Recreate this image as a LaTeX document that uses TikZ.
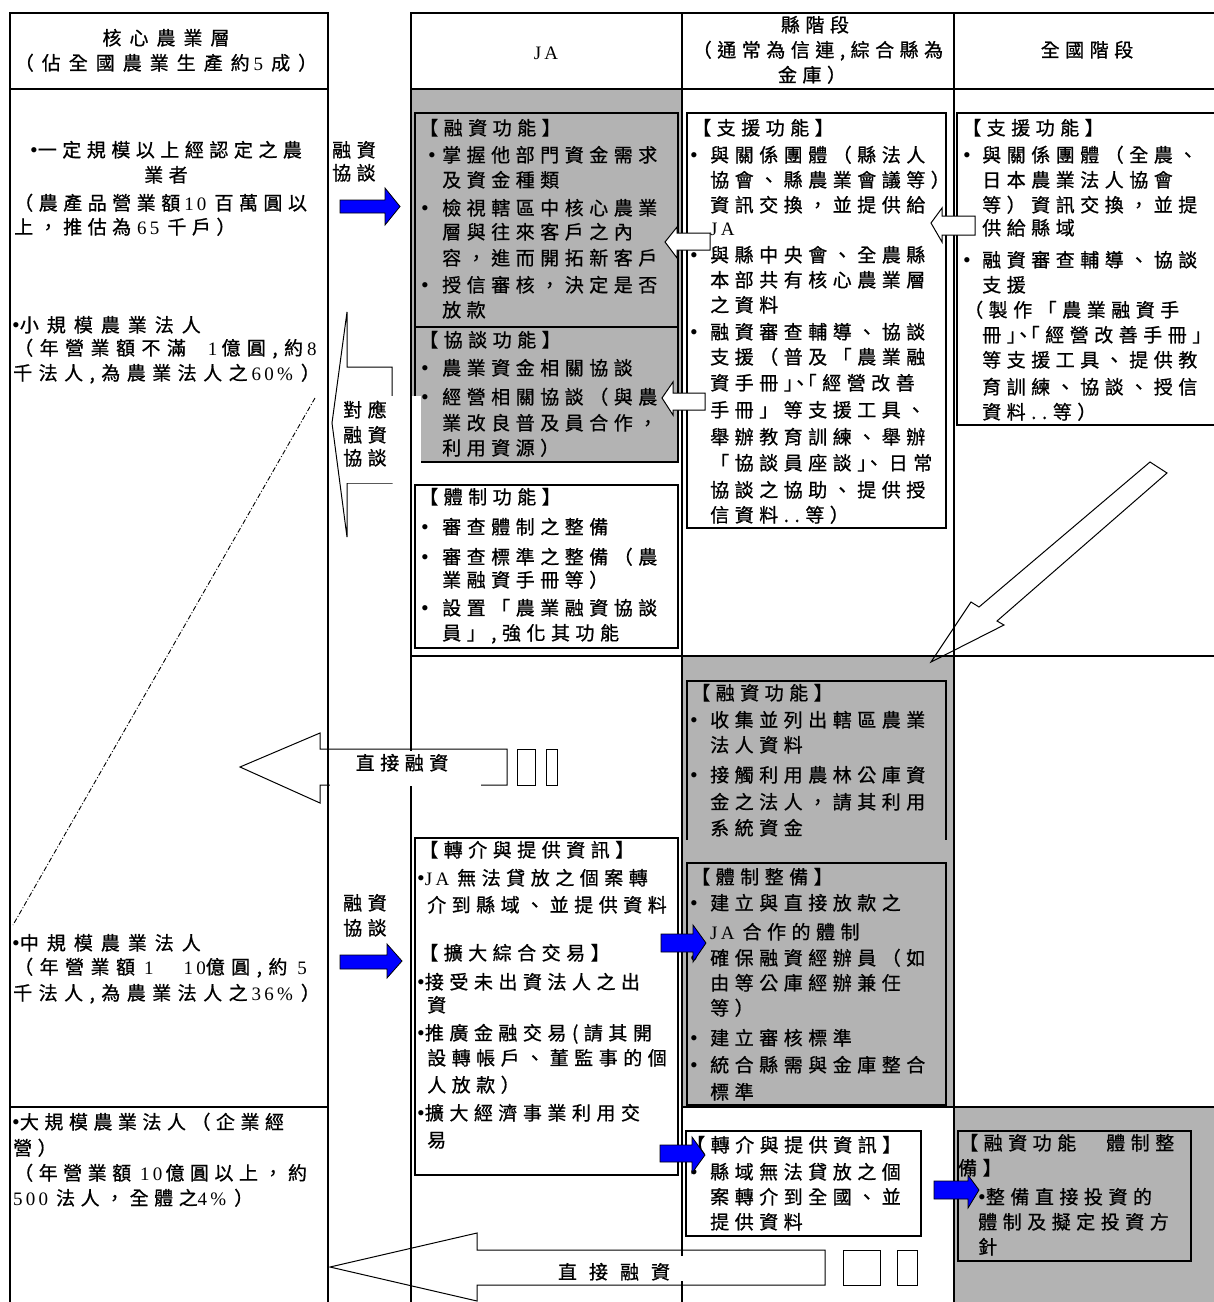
\documentclass[tikz,border=0pt]{standalone}
\usepackage{fontspec}
\setmainfont{Noto Sans CJK TC}[LetterSpace=29,FakeBold=0.8]
\newfontfamily\latf{Liberation Serif}[LetterSpace=17]
\newcommand\nm[1]{{\latf #1}}
\newcommand\bu{{\latf\fontsize{22}{25}\selectfont •}}
\newcommand\bx[1]{\makebox[#1pt][l]{\latf\fontsize{22}{25}\selectfont •}}
\newcommand\gp{\hspace{4pt}}
\definecolor{cellgray}{RGB}{179,179,179}
\definecolor{arrblue}{RGB}{0,0,255}
\newcommand\TL[4]{\node[txt] (#1) at (#2,#3+7) {#4};}
\newcommand\WL[4]{\node[wtxt] (#1) at (#2,#3+7) {#4};}
\newcommand\ML[4]{\node[mtxt] (#1) at (#2,#3+7) {#4};}
\tikzset{
  txt/.style={anchor=base west, inner sep=0pt, font=\fontsize{19}{25}\selectfont},
  wtxt/.style={anchor=base west, inner sep=0pt, font=\fontsize{19}{25}\selectfont\addfontfeature{LetterSpace=42}},
  mtxt/.style={anchor=base west, inner sep=0pt, font=\fontsize{19}{25}\selectfont\addfontfeature{LetterSpace=34}},
  ctxt/.style={txt, anchor=base},
  wctxt/.style={wtxt, anchor=base},
  tab/.style={line width=1.6pt},
  boxl/.style={draw, line width=1.1pt},
  bluearr/.style={fill=arrblue, draw=black, line width=0.8pt, line join=miter},
  hollow/.style={fill=white, draw=black, line width=1pt},
  outl/.style={draw=black, line width=1pt},
  dashdotl/.style={line width=0.9pt, dash pattern=on 5pt off 2pt on 1pt off 2pt}
}
\begin{document}
\begin{tikzpicture}[x=1pt,y=-1pt]
\useasboundingbox (0,0) rectangle (1214,1302);
\fill[white] (0,0) rectangle (1214,1302);
% gray cells
\fill[cellgray] (411,89) rectangle (682,396);
\fill[cellgray] (421,396) rectangle (678,462);
\fill[cellgray] (682,656) rectangle (954,1107);
\fill[cellgray] (954,1107) rectangle (1214,1302);
% table lines
\draw[tab] (10,1302) -- (10,13) -- (328,13) -- (328,1302);
\draw[tab] (10,89) -- (328,89);
\draw[tab] (10,1107) -- (328,1107);
\draw[tab] (411,1302) -- (411,13) -- (1214,13);
\draw[tab] (682,13) -- (682,1302);
\draw[tab, line width=2.4pt] (954,13) -- (954,1302);
\draw[tab] (411,89) -- (1214,89);
\draw[tab] (411,656) -- (1214,656);
\draw[tab] (682,1107) -- (1214,1107);
% boxes
\draw[boxl] (415,113) rectangle (678,327);
\draw[boxl] (415,396) -- (415,327) -- (678,327) -- (678,462) -- (421,462);
\draw[boxl, fill=white] (415,485) rectangle (678,648);
\draw[boxl, fill=white] (687,113) rectangle (946,528);
\draw[boxl, fill=white] (1214,113) -- (957,113) -- (957,425) -- (1214,425);
\draw[boxl] (687,840) -- (687,681) -- (946,681) -- (946,840);
\draw[boxl] (687,863) rectangle (946,1105);
\draw[boxl, fill=white] (415,838) rectangle (678,1175);
\draw[boxl, fill=white] (686,1131) rectangle (921,1236);
\draw[boxl] (958,1131) rectangle (1191,1261);
% headers
\node[wctxt] (h1) at (166,45) {核心農業層};
\node[wctxt] (h2) at (166,70) {（佔全國農業生產約\gp\nm{5 }成）};
\node[ctxt] (h3) at (546,59) {\nm{JA}};
\node[ctxt] (h4) at (815,32) {縣階段};
\node[ctxt] (h5) at (818,57) {（通常為信連,綜合縣為};
\node[ctxt] (h6) at (812,82) {金庫）};
\node[ctxt] (h7) at (1087,57) {全國階段};
% left column
\node[ctxt] (l1) at (166,157) {\bu 一定規模以上經認定之農};
\node[ctxt] (l2) at (166,182) {業者};
\TL{l3}{14}{203}{（農產品營業額\gp\nm{10 }百萬圓以}
\TL{l4}{14}{227}{上，推估為\hspace{6pt}\nm{65 }千戶）}
\WL{l5}{12}{325}{\bu 小規模農業法人}
\ML{l6}{14}{348}{（年營業額不滿\hspace{22pt}\nm{1}\hspace{4pt}億圓,約\gp\nm{8}}
\ML{l7}{13}{373}{千法人,為農業法人之\gp\nm{60\% }）}
\WL{l8}{12}{943}{\bu 中規模農業法人}
\ML{l9}{14}{967}{（年營業額\hspace{9pt}\nm{1}\hspace{30pt}\nm{10}億圓,約\hspace{10pt}\nm{5}}
\ML{l10}{13}{993}{千法人,為農業法人之\gp\nm{36\% }）}
\TL{l11}{12}{1122}{\bu 大規模農業法人（企業經}
\TL{l12}{13}{1148}{營）}
\TL{l13}{14}{1173}{（年營業額\hspace{9pt}\nm{10}\hspace{3pt}億圓以上，約}
\TL{l14}{13}{1198}{\nm{500 }法人，全體之\nm{4\% }）}
% middle labels
\TL{m1}{332}{150}{融資}
\TL{m2}{332}{173}{協談}
\TL{m3}{343}{903}{融資}
\TL{m4}{343}{928}{協談}
% JA box 1
\TL{ja1}{419}{128}{【融資功能】}
\TL{ja2}{428}{155}{\bx{14}掌握他部門資金需求}
\TL{ja3}{442}{180}{及資金種類}
\TL{ja4}{421}{208}{\bx{21}檢視轄區中核心農業}
\TL{ja5}{442}{232}{層與往來客戶之內}
\TL{ja6}{442}{258}{容，進而開拓新客戶}
\TL{ja7}{421}{285}{\bx{21}授信審核，決定是否}
\TL{ja8}{442}{310}{放款}
% JA box 2
\TL{jb1}{419}{340}{【協談功能】}
\TL{jb2}{421}{368}{\bx{21}農業資金相關協談}
\TL{jb3}{421}{397}{\bx{21}經營相關協談（與農}
\TL{jb4}{442}{423}{業改良普及員合作，}
\TL{jb5}{442}{448}{利用資源）}
% JA box 3
\TL{jc1}{419}{497}{【體制功能】}
\TL{jc2}{421}{527}{\bx{21}審查體制之整備}
\TL{jc3}{421}{557}{\bx{21}審查標準之整備（農}
\TL{jc4}{442}{580}{業融資手冊等）}
\TL{jc5}{421}{608}{\bx{21}設置「農業融資協談}
\TL{jc6}{442}{633}{員」,強化其功能}
% county support box
\TL{kb1}{692}{128}{【支援功能】}
\TL{kb2}{690}{155}{\bx{20}與關係團體（縣法人}
\TL{kb3}{710}{180}{協會、縣農業會議等）}
\TL{kb4}{710}{205}{資訊交換，並提供給}
\TL{kb5}{710}{228}{\nm{JA}}
\TL{kb6}{690}{255}{\bx{20}與縣中央會、全農縣}
\TL{kb7}{710}{280}{本部共有核心農業層}
\TL{kb8}{710}{305}{之資料}
\TL{kb9}{690}{332}{\bx{20}融資審查輔導、協談}
\TL{kb10}{710}{357}{支援（普及「農業融}
\TL{kb11}{710}{383}{資手冊」\kern-12pt、\kern-12pt「經營改善}
\TL{kb12}{710}{410}{手冊」等支援工具、}
\TL{kb13}{710}{437}{舉辦教育訓練、舉辦}
\TL{kb14}{710}{463}{「協談員座談」\kern-12pt、日常}
\TL{kb15}{710}{490}{協談之協助、提供授}
\TL{kb16}{710}{515}{信資料..等）}
% national support box
\TL{kc1}{962}{128}{【支援功能】}
\TL{kc2}{963}{155}{\bx{19}與關係團體（全農、}
\TL{kc3}{982}{180}{日本農業法人協會}
\TL{kc4}{982}{205}{等）資訊交換，並提}
\TL{kc5}{982}{228}{供給縣域}
\TL{kc6}{963}{260}{\bx{19}融資審查輔導、協談}
\TL{kc7}{982}{285}{支援}
\TL{kc8}{964}{310}{（製作「農業融資手}
\TL{kc9}{982}{335}{冊」\kern-12pt、\kern-12pt「經營改善手冊」}
\TL{kc10}{982}{360}{等支援工具、提供教}
\TL{kc11}{982}{387}{育訓練、協談、授信}
\TL{kc12}{982}{412}{資料..等）}
% county row 2
\TL{kd1}{691}{693}{【融資功能】}
\TL{kd2}{690}{720}{\bx{20}收集並列出轄區農業}
\TL{kd3}{710}{745}{法人資料}
\TL{kd4}{690}{775}{\bx{20}接觸利用農林公庫資}
\TL{kd5}{710}{802}{金之法人，請其利用}
\TL{kd6}{710}{828}{系統資金}
\TL{ke1}{691}{877}{【體制整備】}
\TL{ke2}{690}{903}{\bx{20}建立與直接放款之}
\TL{ke3}{710}{932}{\nm{JA }合作的體制}
\TL{ke4}{690}{958}{\bx{20}確保融資經辦員（如}
\TL{ke5}{710}{983}{由等公庫經辦兼任}
\TL{ke6}{710}{1008}{等）}
\TL{ke7}{690}{1038}{\bx{20}建立審核標準}
\TL{ke8}{690}{1065}{\bx{20}統合縣需與金庫整合}
\TL{ke9}{710}{1092}{標準}
% county row 3
\TL{kf1}{686}{1145}{【轉介與提供資訊】}
\TL{kf2}{690}{1172}{\bx{20}縣域無法貸放之個}
\TL{kf3}{710}{1197}{案轉介到全國、並}
\TL{kf4}{710}{1222}{提供資料}
% JA row 2
\TL{jd1}{419}{850}{【轉介與提供資訊】}
\TL{jd2}{417}{878}{\bu\nm{JA }無法貸放之個案轉}
\TL{jd3}{427}{905}{介到縣域、並提供資料}
\TL{jd4}{419}{953}{【擴大綜合交易】}
\TL{jd5}{417}{982}{\bu 接受未出資法人之出}
\TL{jd6}{427}{1005}{資}
\TL{jd7}{417}{1033}{\bu 推廣金融交易(請其開}
\TL{jd8}{427}{1058}{設轉帳戶、董監事的個}
\TL{jd9}{427}{1085}{人放款）}
\TL{jd10}{417}{1113}{\bu 擴大經濟事業利用交}
\TL{jd11}{427}{1140}{易}
% national row 3
\TL{kg1}{959}{1143}{【融資功能　體制整}
\TL{kg2}{958}{1168}{備】}
\TL{kg3}{978}{1197}{\bu 整備直接投資的}
\TL{kg4}{978}{1222}{體制及擬定投資方}
\TL{kg5}{978}{1247}{針}
% dash-dot diagonal
\draw[dashdotl] (315,398) -- (13,925);
% correspondence arrow
\draw[outl] (332,423) -- (347,312) -- (347,367) -- (392,367) -- (392,483) -- (347,483) -- (347,537) -- cycle;
\node[fill=white, inner sep=0pt, minimum width=59pt, minimum height=87pt] (cbox) at (370.5,439) {};
\TL{c1}{343}{410}{對應}
\TL{c2}{343}{435}{融資}
\TL{c3}{343}{458}{協談}
% direct financing arrow (upper)
\draw[outl] (240,767) -- (320,733) -- (320,749) -- (507,749) -- (507,785) -- (320,785) -- (320,803) -- cycle;
\draw[outl] (517,749) rectangle (535,785);
\draw[outl] (546,749) rectangle (557,785);
\node[fill=white, inner sep=0pt, minimum width=151pt, minimum height=35pt] (d1box) at (405.5,768.5) {};
\node[ctxt] (d1) at (402,770) {直接融資};
% direct financing arrow (lower)
\draw[outl] (330,1267) -- (477,1233) -- (477,1250) -- (825,1250) -- (825,1285) -- (477,1285) -- (477,1301) -- cycle;
\draw[outl] (843,1250) rectangle (880,1285);
\draw[outl] (897,1250) rectangle (917,1285);
\node[fill=white, inner sep=0pt, minimum width=150pt, minimum height=25pt] (d2box) at (615,1268.5) {};
\node[ctxt] (d2) at (614,1279) {直\kern12pt 接\kern12pt 融\kern12pt 資};
% hollow small arrows
\draw[hollow] (665,242) -- (677,227) -- (677,233) -- (710,233) -- (710,250) -- (677,250) -- (677,258) -- cycle;
\draw[hollow] (662,398) -- (673,382) -- (673,393) -- (705,393) -- (705,410) -- (673,410) -- (673,415) -- cycle;
\draw[hollow] (931,223) -- (942,208) -- (942,216) -- (975,216) -- (975,235) -- (942,235) -- (942,242) -- cycle;
% big diagonal arrow
\draw[outl] (1150,462) -- (979,607) -- (971,602) -- (931,662) -- (1004,625) -- (997,621) -- (1167,473) -- cycle;
% blue arrows
\draw[bluearr] (340,200) -- (385,200) -- (385,188) -- (400,206.5) -- (385,225) -- (385,213) -- (340,213) -- cycle;
\draw[bluearr] (340,955) -- (387,955) -- (387,944) -- (402,961) -- (387,978) -- (387,969) -- (340,969) -- cycle;
\draw[bluearr] (661,934) -- (693,934) -- (693,925) -- (706,943) -- (693,962) -- (693,952) -- (661,952) -- cycle;
\draw[bluearr] (660,1145) -- (692,1145) -- (692,1137) -- (705,1155) -- (692,1173) -- (692,1162) -- (660,1162) -- cycle;
\draw[bluearr] (934,1181) -- (968,1181) -- (968,1175) -- (979,1190) -- (968,1208) -- (968,1199) -- (934,1199) -- cycle;
\end{tikzpicture}
\end{document}
